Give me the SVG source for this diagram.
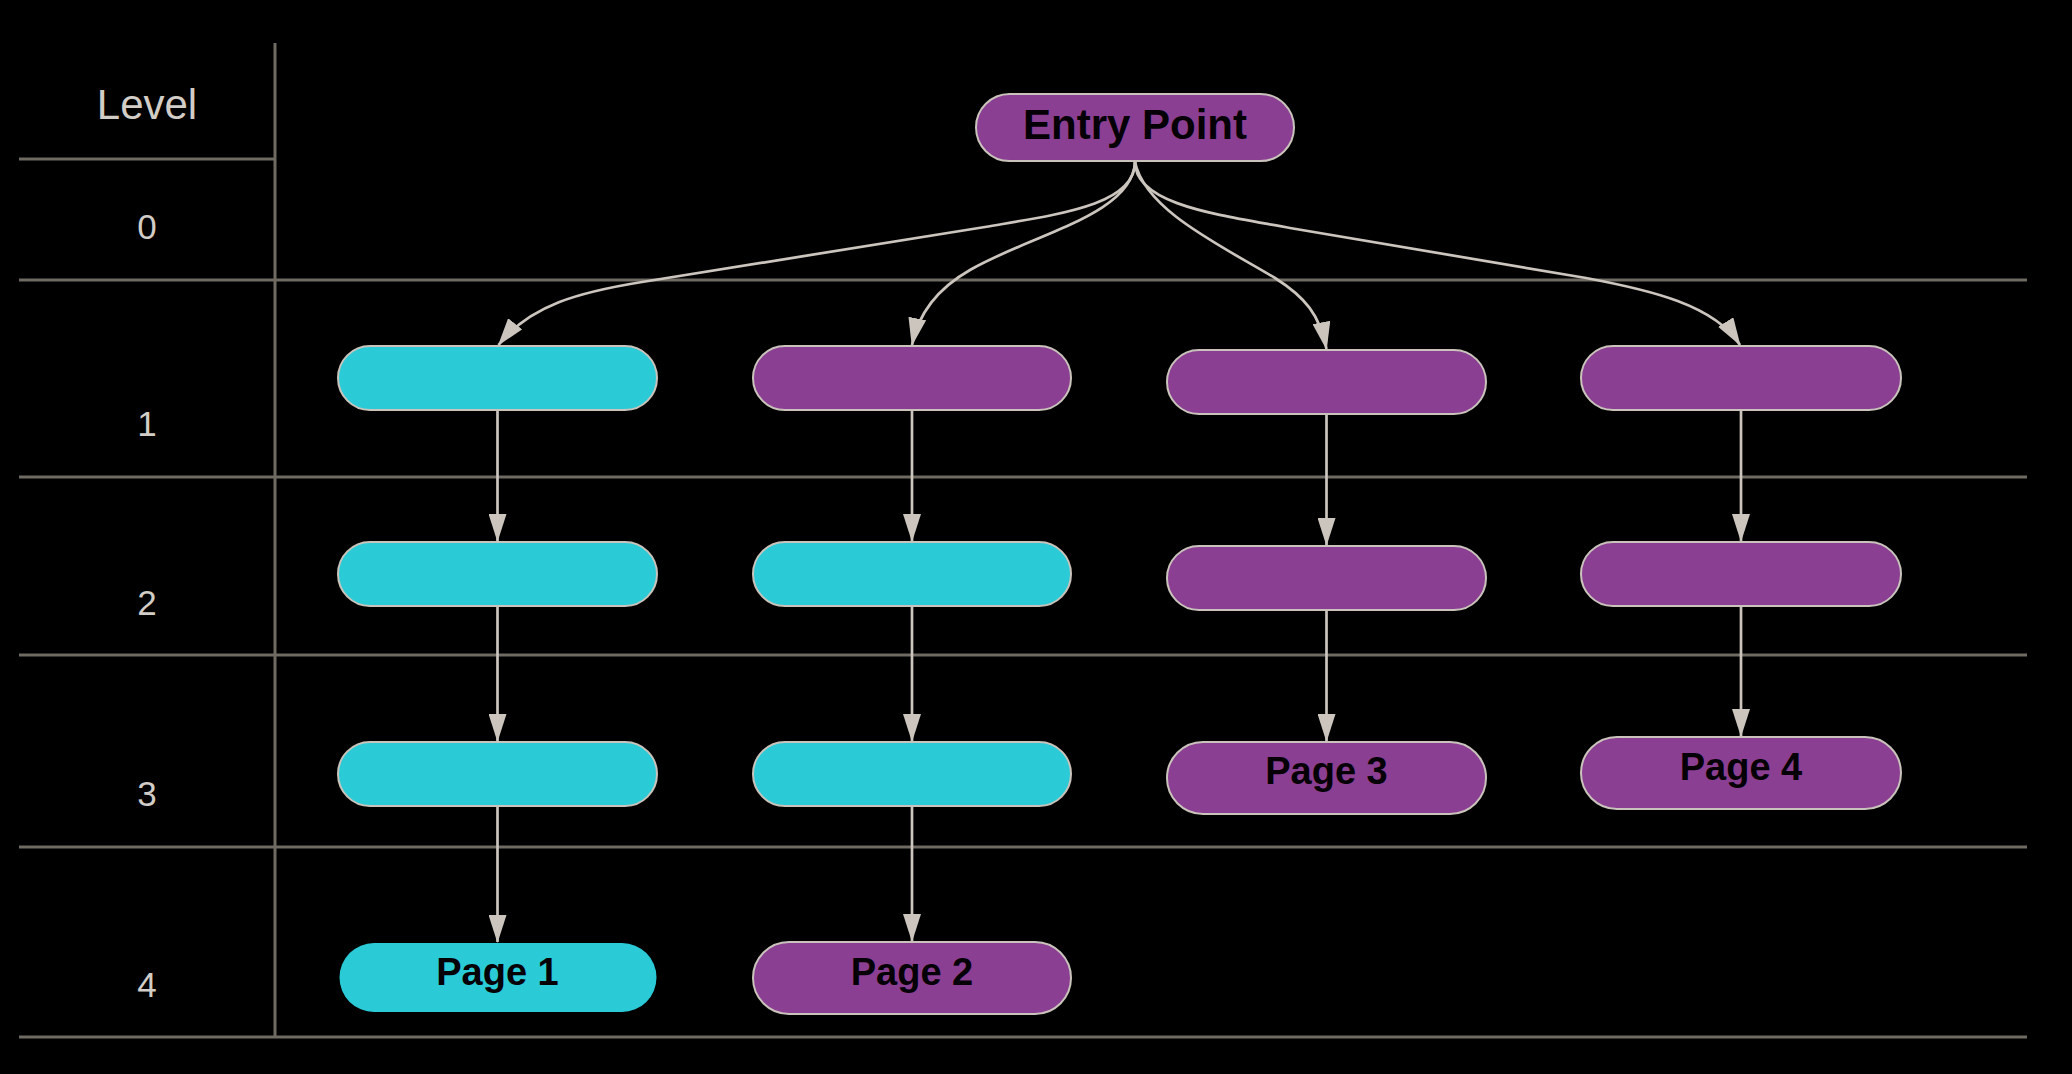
<svg xmlns="http://www.w3.org/2000/svg" width="2072" height="1074" viewBox="0 0 2072 1074">
<defs>
<style>
.grid{stroke:#6f6a62;stroke-width:3;fill:none}
.lvl{font-family:"Liberation Sans",Arial,sans-serif;fill:#d2cdc6;text-anchor:middle}
.cy{fill:#2acbd6;stroke:#c9c3bb;stroke-width:2}
.pu{fill:#8b3f93;stroke:#c9c3bb;stroke-width:2}
.lbl{font-family:"Liberation Sans",Arial,sans-serif;font-weight:bold;fill:#050005;text-anchor:middle}
.edge{stroke:#cbc5be;stroke-width:2.7;fill:none;marker-end:url(#arr)}
</style>
<marker id="arr" markerUnits="userSpaceOnUse" viewBox="0 0 28 18" markerWidth="28" markerHeight="18" refX="27" refY="9" orient="auto">
<path d="M0,0 L28,9 L0,18 z" fill="#cbc5be"/>
</marker>
</defs>
<rect width="2072" height="1074" fill="#000"/>
<g id="grid">
<line class="grid" x1="275" y1="43" x2="275" y2="1038"/>
<line class="grid" x1="19" y1="159" x2="275" y2="159"/>
<line class="grid" x1="19" y1="280" x2="2027" y2="280"/>
<line class="grid" x1="19" y1="477" x2="2027" y2="477"/>
<line class="grid" x1="19" y1="655" x2="2027" y2="655"/>
<line class="grid" x1="19" y1="847" x2="2027" y2="847"/>
<line class="grid" x1="19" y1="1037" x2="2027" y2="1037"/>
<text class="lvl" x="147" y="119" font-size="42">Level</text>
<text class="lvl" x="147" y="239" font-size="35">0</text>
<text class="lvl" x="147" y="436" font-size="35">1</text>
<text class="lvl" x="147" y="615" font-size="35">2</text>
<text class="lvl" x="147" y="806" font-size="35">3</text>
<text class="lvl" x="147" y="997" font-size="35">4</text>
</g>
<g id="connectors">
<path class="edge" d="M1135,162 C1135,205 1060,214 985,227 L642,282 C580,292 530,305 498.5,345"/>
<path class="edge" d="M1135,162 C1133,215 1030,235 970,270 C935,290 918,315 912,345"/>
<path class="edge" d="M1135,162 C1145,210 1220,245 1275,278 C1305,297 1320,315 1326.5,349"/>
<path class="edge" d="M1135,162 C1135,205 1220,215 1290,228 L1586,278 C1650,290 1715,305 1740,345"/>
<path class="edge" d="M497.5,410 L497.5,541"/>
<path class="edge" d="M497.5,606 L497.5,741"/>
<path class="edge" d="M497.5,806 L497.5,942"/>
<path class="edge" d="M912,410 L912,541"/>
<path class="edge" d="M912,606 L912,741"/>
<path class="edge" d="M912,806 L912,941"/>
<path class="edge" d="M1326.5,414 L1326.5,545"/>
<path class="edge" d="M1326.5,610 L1326.5,741"/>
<path class="edge" d="M1741,410 L1741,541"/>
<path class="edge" d="M1741,606 L1741,736"/>
</g>
<g id="entry"><rect class="pu" x="976" y="94" width="318" height="67" rx="33.5"/><text class="lbl" x="1135" y="139" font-size="42">Entry Point</text></g>
<g id="a1"><rect class="cy" x="338" y="346" width="319" height="64" rx="32"/></g>
<g id="b1"><rect class="pu" x="753" y="346" width="318" height="64" rx="32"/></g>
<g id="c1"><rect class="pu" x="1167" y="350" width="319" height="64" rx="32"/></g>
<g id="d1"><rect class="pu" x="1581" y="346" width="320" height="64" rx="32"/></g>
<g id="a2"><rect class="cy" x="338" y="542" width="319" height="64" rx="32"/></g>
<g id="b2"><rect class="cy" x="753" y="542" width="318" height="64" rx="32"/></g>
<g id="c2"><rect class="pu" x="1167" y="546" width="319" height="64" rx="32"/></g>
<g id="d2"><rect class="pu" x="1581" y="542" width="320" height="64" rx="32"/></g>
<g id="a3"><rect class="cy" x="338" y="742" width="319" height="64" rx="32"/></g>
<g id="b3"><rect class="cy" x="753" y="742" width="318" height="64" rx="32"/></g>
<g id="page3"><rect class="pu" x="1167" y="742" width="319" height="72" rx="36"/><text class="lbl" x="1326.5" y="784" font-size="38">Page 3</text></g>
<g id="page4"><rect class="pu" x="1581" y="737" width="320" height="72" rx="36"/><text class="lbl" x="1741" y="780" font-size="38">Page 4</text></g>
<g id="page1"><rect x="339.5" y="943" width="317" height="69" rx="34.5" fill="#2acbd6"/><text class="lbl" x="497.5" y="985" font-size="38">Page 1</text></g>
<g id="page2"><rect class="pu" x="753" y="942" width="318" height="72" rx="36"/><text class="lbl" x="912" y="985" font-size="38">Page 2</text></g>
</svg>
